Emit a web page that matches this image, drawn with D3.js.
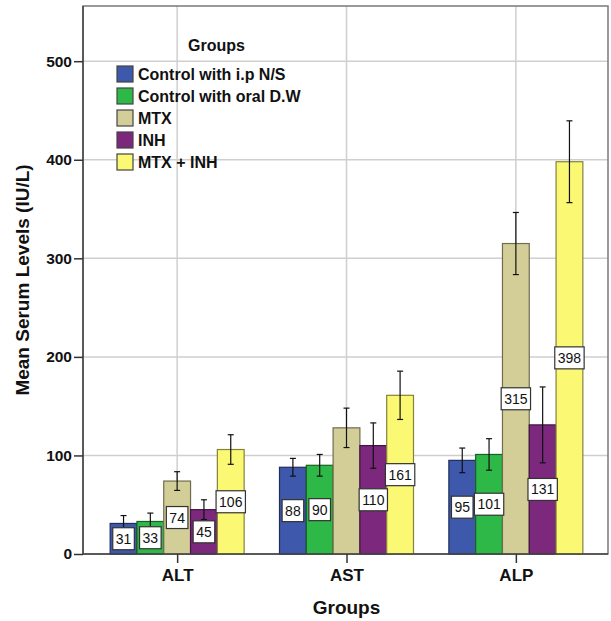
<!DOCTYPE html>
<html>
<head>
<meta charset="utf-8">
<script src="https://cdn.jsdelivr.net/npm/d3@7"></script>
<style>
  body { margin: 0; background: #fff; }
  svg { display: block; }
  text { font-family: "Liberation Sans", Arial, sans-serif; }
</style>
</head>
<body>
<div class="container"></div>
<script>
// categories on the x axis and the five treatment groups
let categories = ["ALT", "AST", "ALP"];
let groups = ["Control with i.p N/S", "Control with oral D.W", "MTX", "INH", "MTX + INH"];
let colors = ["#3e58ac", "#2eb848", "#d3ce97", "#7c287d", "#fbf873"];

// mean values (ALT, AST, ALP) per group
let controlIP = [31, 88, 95];
let controlOral = [33, 90, 101];
let mtx = [74, 128, 315];
let inh = [45, 110, 131];
let mtxInh = [106, 161, 398];

// error bar half lengths
let errControlIP = [8, 9, 12.5];
let errControlOral = [8.5, 11, 16];
let errMtx = [9.5, 20, 31.5];
let errInh = [10, 23, 38.5];
let errMtxInh = [15, 24.5, 41.5];

// data labels shown on the bars (the MTX / AST bar has none)
let labelControlIP = [true, true, true];
let labelControlOral = [true, true, true];
let labelMtx = [true, false, true];
let labelInh = [true, true, true];
let labelMtxInh = [true, true, true];

let yTicks = [0, 100, 200, 300, 400, 500];

let means = [controlIP, controlOral, mtx, inh, mtxInh];
let errs = [errControlIP, errControlOral, errMtx, errInh, errMtxInh];
let labels = [labelControlIP, labelControlOral, labelMtx, labelInh, labelMtxInh];

let W = 611, H = 621;
let plot = { left: 83, right: 608, top: 6, bottom: 554 };

let svg = d3.select(".container").append("svg")
    .attr("width", W)
    .attr("height", H);

let x = d3.scalePoint()
    .domain(categories)
    .range([plot.left + 1, plot.right + 1])
    .padding(0.55);

let xSub = d3.scaleBand()
    .domain(groups)
    .range([-67, 67]);

let y = d3.scaleLinear()
    .domain([0, 556])
    .range([plot.bottom, plot.top]);

let rows = [];
categories.forEach(function (c, ci) {
    groups.forEach(function (g, gi) {
        rows.push({
            cat: c,
            group: g,
            gi: gi,
            value: means[gi][ci],
            err: errs[gi][ci],
            label: labels[gi][ci]
        });
    });
});

// gridlines
let grid = svg.append("g").attr("class", "grid");
grid.selectAll("line.h")
    .data(yTicks.filter(function (d) { return d > 0; }))
    .enter().append("line")
    .attr("class", "h")
    .attr("x1", plot.left).attr("x2", plot.right)
    .attr("y1", function (d) { return y(d); })
    .attr("y2", function (d) { return y(d); })
    .attr("stroke", "#cfcfcf").attr("stroke-width", 1.5);
grid.selectAll("line.v")
    .data(categories)
    .enter().append("line")
    .attr("class", "v")
    .attr("x1", function (d) { return x(d); })
    .attr("x2", function (d) { return x(d); })
    .attr("y1", plot.top).attr("y2", plot.bottom)
    .attr("stroke", "#cfcfcf").attr("stroke-width", 1.5);

// frame
svg.append("rect")
    .attr("x", plot.left).attr("y", plot.top)
    .attr("width", plot.right - plot.left)
    .attr("height", plot.bottom - plot.top)
    .attr("fill", "none")
    .attr("stroke", "#7a7a7a").attr("stroke-width", 1.5);

// bars
let bars = svg.append("g").attr("class", "bars");
bars.selectAll("rect")
    .data(rows)
    .enter().append("rect")
    .attr("x", function (d) { return x(d.cat) + xSub(d.group); })
    .attr("y", function (d) { return y(d.value); })
    .attr("width", xSub.bandwidth())
    .attr("height", function (d) { return y(0) - y(d.value); })
    .attr("fill", function (d) { return colors[d.gi]; })
    .attr("stroke", function (d) { return d3.color(colors[d.gi]).darker(1.8); })
    .attr("stroke-width", 1.2);

// error bars
let eb = svg.append("g").attr("class", "errors")
    .attr("stroke", "#111").attr("stroke-width", 1.2);
eb.selectAll("g")
    .data(rows)
    .enter().append("g")
    .each(function (d) {
        let cx = x(d.cat) + xSub(d.group) + xSub.bandwidth() / 2;
        let g = d3.select(this);
        g.append("line")
            .attr("x1", cx).attr("x2", cx)
            .attr("y1", y(d.value + d.err)).attr("y2", y(d.value - d.err));
        [d.value + d.err, d.value - d.err].forEach(function (v) {
            g.append("line")
                .attr("x1", cx - 3).attr("x2", cx + 3)
                .attr("y1", y(v)).attr("y2", y(v));
        });
    });

// axes
let yAxis = svg.append("g")
    .attr("transform", "translate(" + plot.left + ",0)")
    .call(d3.axisLeft(y).tickValues(yTicks).tickSize(9).tickPadding(2));
yAxis.select(".domain").attr("stroke", "#444").attr("stroke-width", 1.5)
    .attr("d", "M0," + plot.top + "V" + plot.bottom);
yAxis.selectAll(".tick line").attr("stroke", "#333").attr("stroke-width", 1.5);
yAxis.selectAll(".tick text")
    .attr("font-size", 15.5).attr("font-weight", "bold").attr("fill", "#111")
    .attr("font-family", "Liberation Sans, Arial, sans-serif");

let xAxis = svg.append("g")
    .attr("transform", "translate(0," + plot.bottom + ")")
    .call(d3.axisBottom(x).tickSize(9).tickPadding(6));
xAxis.select(".domain").attr("stroke", "#444").attr("stroke-width", 1.5)
    .attr("d", "M" + plot.left + ",0H" + plot.right);
xAxis.selectAll(".tick line").attr("stroke", "#333").attr("stroke-width", 1.5);
xAxis.selectAll(".tick text")
    .attr("font-size", 17).attr("font-weight", "bold").attr("fill", "#111")
    .attr("font-family", "Liberation Sans, Arial, sans-serif");

// value labels
let lab = svg.append("g").attr("class", "labels");
rows.filter(function (d) { return d.label; }).forEach(function (d) {
    let cx = x(d.cat) + xSub(d.group) + xSub.bandwidth() / 2;
    let cy = Math.min(y(d.value / 2), plot.bottom - 12);
    let g = lab.append("g");
    let t = g.append("text")
        .attr("x", cx).attr("y", cy)
        .attr("text-anchor", "middle")
        .attr("dy", "0.36em")
        .attr("font-size", 14)
        .attr("fill", "#111")
        .text(d.value);
    let w = t.node().getComputedTextLength() + 6;
    g.insert("rect", "text")
        .attr("x", cx - w / 2).attr("y", cy - 11)
        .attr("width", w).attr("height", 22)
        .attr("fill", "#fff")
        .attr("stroke", "#333").attr("stroke-width", 1.2);
});

// axis titles
svg.append("text")
    .attr("x", (plot.left + plot.right) / 2 + 1)
    .attr("y", 614)
    .attr("text-anchor", "middle")
    .attr("font-size", 19).attr("font-weight", "bold").attr("fill", "#111")
    .text("Groups");

svg.append("text")
    .attr("transform", "translate(29," + (plot.top + plot.bottom) / 2 + ") rotate(-90)")
    .attr("text-anchor", "middle")
    .attr("font-size", 19).attr("font-weight", "bold").attr("fill", "#111")
    .text("Mean Serum Levels (IU/L)");

// legend
let legend = svg.append("g").attr("class", "legend");
legend.append("text")
    .attr("x", 188).attr("y", 51)
    .attr("font-size", 16).attr("font-weight", "bold").attr("fill", "#111")
    .text("Groups");
let items = legend.selectAll("g.item")
    .data(groups)
    .enter().append("g")
    .attr("class", "item")
    .attr("transform", function (d, i) { return "translate(117," + (66 + i * 22) + ")"; });
items.append("rect")
    .attr("width", 16).attr("height", 16)
    .attr("fill", function (d, i) { return colors[i]; })
    .attr("stroke", "#444").attr("stroke-width", 1.2);
items.append("text")
    .attr("x", 21).attr("y", 14)
    .attr("font-size", 16).attr("font-weight", "bold").attr("fill", "#111")
    .text(function (d) { return d; });
</script>
</body>
</html>
